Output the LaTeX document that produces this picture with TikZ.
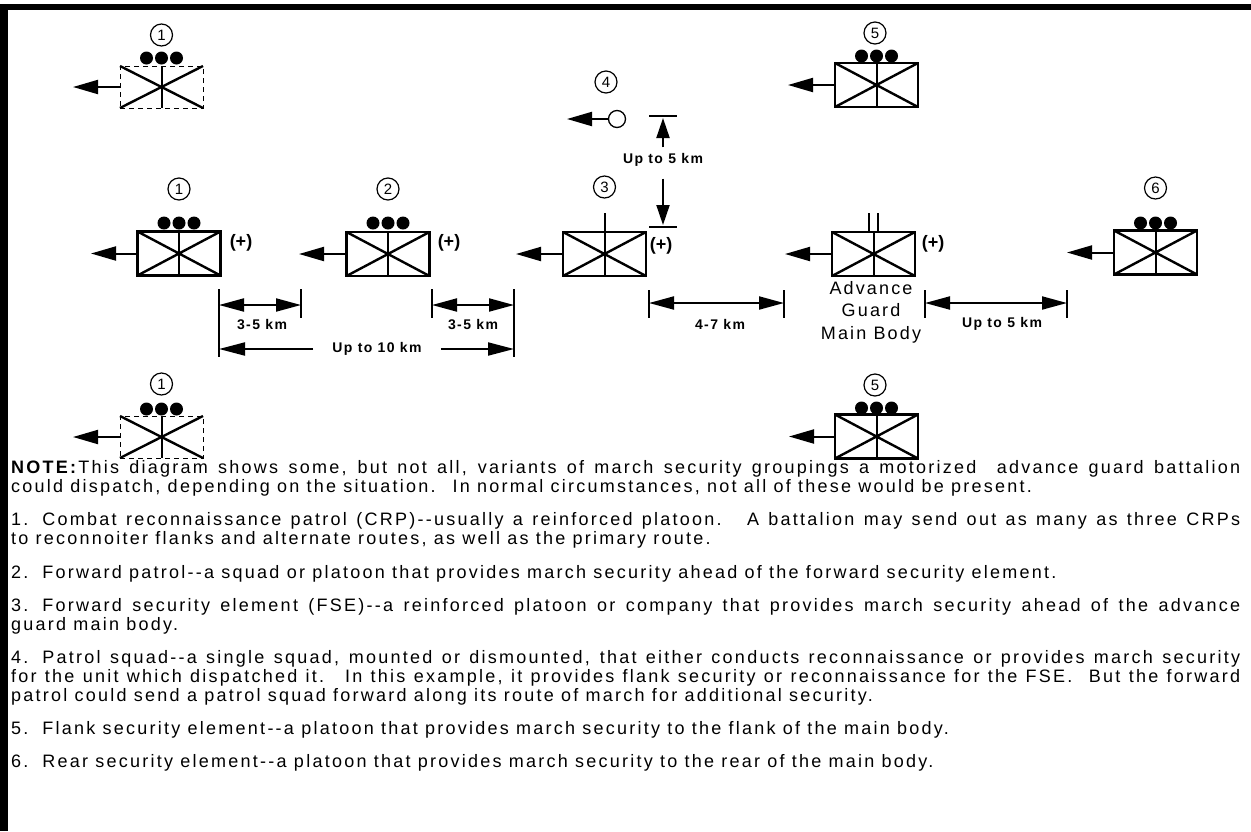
\documentclass[tikz,border=0pt]{standalone}
\usepackage{fontspec}
\setmainfont{Liberation Sans}
\usetikzlibrary{arrows.meta,calc}
\tikzset{
  x=1pt, y=-1pt,
  unitbox/.style={draw, line width=2.6pt, minimum width=83pt, minimum height=44pt, inner sep=0pt, outer sep=0pt},
  dashbox/.style={draw, line width=1pt, dash pattern=on 5pt off 4pt, minimum width=83pt, minimum height=42pt, inner sep=0pt, outer sep=0pt},
  xline/.style={line width=2.4pt},
  midline/.style={line width=2pt},
  numcirc/.style={draw, circle, line width=1.2pt, minimum size=22pt, inner sep=0pt, font=\fontsize{15}{15}\selectfont},
  unitdot/.style={fill, circle, minimum size=13pt, inner sep=0pt},
  movearr/.style={line width=2pt, -{Triangle[length=25pt,width=14pt]}},
  vertarr/.style={line width=2pt, -{Triangle[length=20pt,width=13pt]}},
  dimarr/.style={line width=2pt, {Triangle[length=25pt,width=13pt]}-{Triangle[length=25pt,width=13pt]}},
  onearr/.style={line width=2pt, -{Triangle[length=26pt,width=13pt]}},
  tickline/.style={line width=2pt},
  dimlbl/.style={font=\bfseries\fontsize{14}{14}\selectfont\addfontfeature{LetterSpace=10}, inner sep=0pt},
  pluslbl/.style={font=\bfseries\fontsize{18}{18}\selectfont, inner sep=0pt},
  notetxt/.style={anchor=base west, inner sep=0pt, font=\fontsize{18}{19}\selectfont\addfontfeature{LetterSpace=12.5}},
}
\newcommand\milsym[4]{%
  \node[#4] (#1) at (#2,#3) {};
  \draw[xline] (#1.north west) -- (#1.south east) (#1.south west) -- (#1.north east);
  \draw[midline] (#1.north) -- (#1.south);
}
\newcommand\tridots[3]{%
  \node[unitdot] (#1-a) at (#2-15,#3) {};
  \node[unitdot] (#1-b) at (#2,#3) {};
  \node[unitdot] (#1-c) at (#2+15,#3) {};
}
\newcommand\fullline[1]{\makebox[1229pt][s]{#1}}
\newcommand\numgap{\hspace{14pt}}
\begin{document}
\begin{tikzpicture}
\fill[white] (0,0) rectangle (1251,831);
\useasboundingbox (0,0) rectangle (1251,831);
% frame
\draw[line width=6pt] (0,7) -- (1251,7);
\draw[line width=7pt] (4,4) -- (4,831);

% ---- top-left (1) dashed
\milsym{ua}{161.5}{87}{dashbox}
\tridots{da}{161.5}{58}
\node[numcirc] (ca) at (161.5,35) {1};
\coordinate (ta) at (73,87);
\draw[movearr] (ua.west) -- (ta);

% ---- top (5)
\milsym{ub}{876.5}{85}{unitbox}
\tridots{db}{876.5}{56}
\node[numcirc] (cb) at (875,33) {5};
\coordinate (tb) at (788,85);
\draw[movearr] (ub.west) -- (tb);

% ---- (4) patrol squad
\node[numcirc] (c4) at (606,82) {4};
\node[draw, circle, line width=1.3pt, minimum size=17pt, inner sep=0pt] (ps) at (617,119) {};
\coordinate (tps) at (567,119);
\draw[movearr] (ps.west) -- (tps);

% ---- Up to 5 km (vertical)
\node[dimlbl] (v5) at (663,160) {Up to 5 km};
\coordinate (vb1l) at (649,116); \coordinate (vb1r) at (677,116);
\coordinate (vb2l) at (649,227); \coordinate (vb2r) at (677,227);
\draw[tickline] (vb1l) -- (vb1r);
\draw[tickline] (vb2l) -- (vb2r);
\coordinate (vt1) at (663,118);
\coordinate (vt2) at (663,225);
\draw[vertarr] ([yshift=6pt]v5.north) -- (vt1);
\draw[vertarr] ([yshift=-12pt]v5.south) -- (vt2);

% ---- middle row (1)
\milsym{u1}{179}{253.5}{unitbox}
\tridots{d1}{179}{223}
\node[numcirc] (c1) at (179,189) {1};
\node[pluslbl] (p1) at (241,243) {(+)};
\coordinate (t1) at (91,253.5);
\draw[movearr] (u1.west) -- (t1);

% ---- (2)
\milsym{u2}{388}{254}{unitbox}
\tridots{d2}{388}{223}
\node[numcirc] (c2) at (388,189) {2};
\node[pluslbl] (p2) at (449,243) {(+)};
\coordinate (t2) at (299,254);
\draw[movearr] (u2.west) -- (t2);

% ---- (3)
\milsym{u3}{604.5}{254}{unitbox}
\draw[midline] (u3.north) -- ++(0,-19);
\node[numcirc] (c3) at (604.5,187) {3};
\node[pluslbl] (p3) at (661,246) {(+)};
\coordinate (t3) at (516,254);
\draw[movearr] (u3.west) -- (t3);

% ---- Advance guard main body
\milsym{um}{873.5}{254}{unitbox}
\draw[midline] ([xshift=-4.5pt]um.north) -- ++(0,-19);
\draw[midline] ([xshift=4.5pt]um.north) -- ++(0,-19);
\node[pluslbl] (pm) at (933,244) {(+)};
\coordinate (tm) at (785,254);
\draw[movearr] (um.west) -- (tm);
\node[align=center, inner sep=0pt, font=\fontsize{18}{22.5}\selectfont\addfontfeature{LetterSpace=12}] (amb) at (871,312) {Advance\\Guard\\Main Body};

% ---- (6)
\milsym{u6}{1155.5}{252.5}{unitbox}
\tridots{d6}{1155.5}{223}
\node[numcirc] (c6) at (1155.5,188) {6};
\coordinate (t6) at (1067,252.5);
\draw[movearr] (u6.west) -- (t6);

% ---- bottom-left (1) dashed
\milsym{uc}{161.5}{437}{dashbox}
\tridots{dc}{161.5}{409}
\node[numcirc] (cc) at (161.5,384) {1};
\coordinate (tc) at (73,437);
\draw[movearr] (uc.west) -- (tc);

% ---- bottom (5)
\milsym{ud}{876.5}{436.5}{unitbox}
\tridots{dd}{876.5}{408}
\node[numcirc] (cd) at (875,385) {5};
\coordinate (td) at (789,436.5);
\draw[movearr] (ud.west) -- (td);

% ---- horizontal dimensions
\coordinate (k1t) at (219,289); \coordinate (k1b) at (219,357);
\coordinate (k2t) at (301,289); \coordinate (k2b) at (301,318);
\coordinate (k3t) at (432,289); \coordinate (k3b) at (432,318);
\coordinate (k4t) at (514,289); \coordinate (k4b) at (514,357);
\draw[tickline] (k1t) -- (k1b) (k2t) -- (k2b) (k3t) -- (k3b) (k4t) -- (k4b);
\coordinate (a1l) at (219,305); \coordinate (a1r) at (301,305);
\coordinate (a2l) at (432,305); \coordinate (a2r) at (514,305);
\draw[dimarr] (a1l) -- (a1r);
\draw[dimarr] (a2l) -- (a2r);
\node[dimlbl] (l35a) at (262,324) {3-5 km};
\node[dimlbl] (l35b) at (473,324) {3-5 km};
\node[dimlbl, inner xsep=19pt] (l10) at (377,349) {Up to 10 km};
\coordinate (a3l) at (219,349); \coordinate (a3r) at (514,349);
\draw[onearr] (l10.west) -- (a3l);
\draw[onearr] (l10.east) -- (a3r);

\coordinate (k5t) at (649,290); \coordinate (k5b) at (649,318);
\coordinate (k6t) at (784,290); \coordinate (k6b) at (784,318);
\coordinate (k7t) at (925,290); \coordinate (k7b) at (925,318);
\coordinate (k8t) at (1067,290); \coordinate (k8b) at (1067,318);
\draw[tickline] (k5t) -- (k5b) (k6t) -- (k6b) (k7t) -- (k7b) (k8t) -- (k8b);
\coordinate (a4l) at (649,303); \coordinate (a4r) at (784,303);
\coordinate (a5l) at (925,303); \coordinate (a5r) at (1067,303);
\draw[dimarr] (a4l) -- (a4r);
\draw[dimarr] (a5l) -- (a5r);
\node[dimlbl] (l47) at (720,324) {4-7 km};
\node[dimlbl] (l5h) at (1002,324) {Up to 5 km};

% ---- note text
\node[notetxt] (n1) at (11,473) {\fullline{\textbf{NOTE:}This diagram shows some, but not all, variants of march security groupings a motorized~ advance guard battalion}};
\node[notetxt] (n2) at (11,492) {could dispatch, depending on the situation.~ In normal circumstances, not all of these would be present.};
\node[notetxt] (n3) at (11,525) {\fullline{1.\numgap Combat reconnaissance patrol (CRP)-{}-usually a reinforced platoon.~ A battalion may send out as many as three CRPs}};
\node[notetxt] (n4) at (11,544) {to reconnoiter flanks and alternate routes, as well as the primary route.};
\node[notetxt] (n5) at (11,578) {2.\numgap Forward patrol-{}-a squad or platoon that provides march security ahead of the forward security element.};
\node[notetxt] (n6) at (11,611) {\fullline{3.\numgap Forward security element (FSE)-{}-a reinforced platoon or company that provides march security ahead of the advance}};
\node[notetxt] (n7) at (11,630) {guard main body.};
\node[notetxt] (n8) at (11,663) {\fullline{4.\numgap Patrol squad-{}-a single squad, mounted or dismounted, that either conducts reconnaissance or provides march security}};
\node[notetxt] (n9) at (11,682) {\fullline{for the unit which dispatched it.~ In this example, it provides flank security or reconnaissance for the FSE.~ But the forward}};
\node[notetxt] (n10) at (11,701) {patrol could send a patrol squad forward along its route of march for additional security.};
\node[notetxt] (n11) at (11,734) {5.\numgap Flank security element-{}-a platoon that provides march security to the flank of the main body.};
\node[notetxt] (n12) at (11,767) {6.\numgap Rear security element-{}-a platoon that provides march security to the rear of the main body.};
\end{tikzpicture}
\end{document}
